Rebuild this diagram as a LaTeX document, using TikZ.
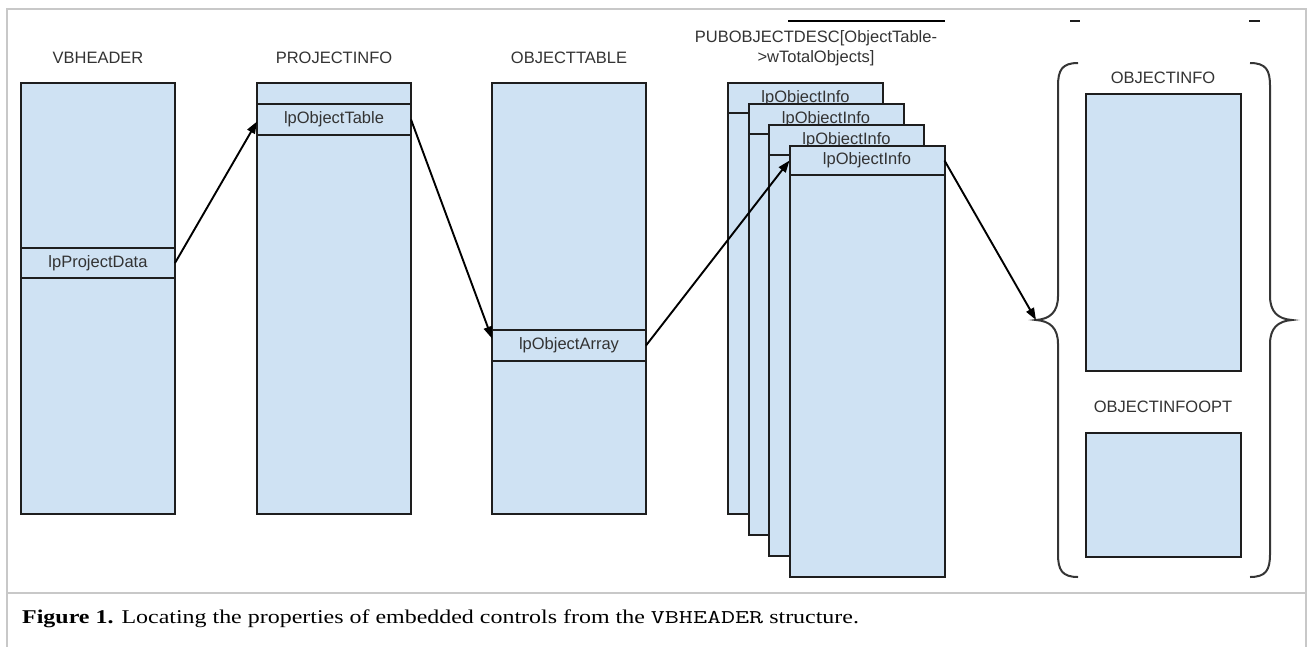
\documentclass[tikz,border=0pt]{standalone}
\usepackage{fontspec}
\usepackage{graphicx}
\setmainfont{Liberation Serif}
\setsansfont{Liberation Sans}
\usetikzlibrary{arrows.meta}

\definecolor{cellblue}{HTML}{CFE2F3}
\definecolor{edgeink}{HTML}{1E1E1E}
\definecolor{labelgray}{HTML}{333333}
\definecolor{framegray}{HTML}{C8C8C8}

\begin{document}
\begin{tikzpicture}[x=1pt,y=-1pt,
  cell/.style={draw=edgeink, fill=cellblue, line width=2pt, rectangle,
    inner sep=0pt, outer sep=0pt, anchor=north west,
    font=\sffamily\fontsize{16.5}{18}\selectfont, text=labelgray},
  title/.style={font=\sffamily\fontsize{16.5}{20}\selectfont, text=labelgray,
    align=center, inner sep=0pt},
  link/.style={draw=black, line width=1.9pt, -{Triangle[length=12pt,width=8.5pt]}},
  bracket/.style={draw=edgeink!90, line width=2pt},
  frameline/.style={draw=framegray, line width=1.5pt},
]
\useasboundingbox (0,0) rectangle (1308,646);

% outer frame and caption separator
\draw[frameline] (7,650) -- (7,9) -- (1306,9) -- (1306,650);
\draw[frameline] (7,593) -- (1306,593);

% remnants along the top edge
\draw[black, line width=1.4pt] (788,21) -- (945,21);
\draw[edgeink, line width=1.4pt] (1070,21) -- (1080,21);
\draw[edgeink, line width=1.4pt] (1249,21) -- (1260,21);

% VBHEADER
\node[title] (tvb) at (98,58) {VBHEADER};
\node[cell, minimum width=154pt, minimum height=431pt] (vb) at (21,83) {};
\node[cell, minimum width=154pt, minimum height=30pt] (vbrow) at (21,248) {lpProjectData};

% PROJECTINFO
\node[title] (tpi) at (334,58) {PROJECTINFO};
\node[cell, minimum width=154pt, minimum height=431pt] (pi) at (257,83) {};
\node[cell, minimum width=154pt, minimum height=31pt] (pirow) at (257,104) {lpObjectTable};

% OBJECTTABLE
\node[title] (tot) at (569,58) {OBJECTTABLE};
\node[cell, minimum width=154pt, minimum height=431pt] (ot) at (492,83) {};
\node[cell, minimum width=154pt, minimum height=31pt] (otrow) at (492,330) {lpObjectArray};

% PUBOBJECTDESC array, stacked copies
\node[title] (tpd) at (816,48) {PUBOBJECTDESC[ObjectTable-\\>wTotalObjects]};
\node[cell, minimum width=155pt, minimum height=431pt] (s1) at (728,83) {};
\node[cell, minimum width=155pt, minimum height=30pt] (s1h) at (728,83) {lpObjectInfo};
\node[cell, minimum width=155pt, minimum height=431pt] (s2) at (748.5,104) {};
\node[cell, minimum width=155pt, minimum height=30pt] (s2h) at (748.5,104) {lpObjectInfo};
\node[cell, minimum width=155pt, minimum height=431pt] (s3) at (769,125) {};
\node[cell, minimum width=155pt, minimum height=30pt] (s3h) at (769,125) {lpObjectInfo};
\node[cell, minimum width=155pt, minimum height=431pt] (s4) at (789.5,146) {};
\node[cell, minimum width=155pt, minimum height=29pt] (s4h) at (789.5,146) {lpObjectInfo};

% OBJECTINFO and OBJECTINFOOPT
\node[title] (toi) at (1163,78) {OBJECTINFO};
\node[cell, minimum width=155pt, minimum height=277pt] (oi) at (1086,94) {};
\node[title] (too) at (1163,407) {OBJECTINFOOPT};
\node[cell, minimum width=155pt, minimum height=124pt] (oo) at (1086,433) {};

% curly brackets around the object info pair
\coordinate (btip) at (1036,320);
\draw[bracket] (1078,63) .. controls (1062,63) and (1058,70) .. (1058,86)
  -- (1058,296) .. controls (1058,312) and (1050,319) .. (btip)
  .. controls (1050,321) and (1058,328) .. (1058,344)
  -- (1058,554) .. controls (1058,570) and (1062,577) .. (1078,577);
\draw[bracket] (1250,63) .. controls (1266,63) and (1270,70) .. (1270,86)
  -- (1270,296) .. controls (1270,312) and (1278,319) .. (1292,320)
  .. controls (1278,321) and (1270,328) .. (1270,344)
  -- (1270,554) .. controls (1270,570) and (1266,577) .. (1250,577);

% pointers
\draw[link] (vbrow.east) -- ([yshift=-2pt]pirow.west);
\draw[link] (pirow.east) -- ([yshift=7pt]otrow.west);
\draw[link] (otrow.east) -- (s4h.west);
\draw[link] (s4h.east) -- (btip);

% caption
\node[anchor=base west, inner sep=0pt, font=\fontsize{19.5}{22}\selectfont] (caption) at (22,623)
  {\scalebox{1.228}[1]{\textbf{Figure 1.} Locating the properties of embedded controls from the \scalebox{1.14}[1]{\texttt{VBHEADER}} structure.}};
\end{tikzpicture}
\end{document}
